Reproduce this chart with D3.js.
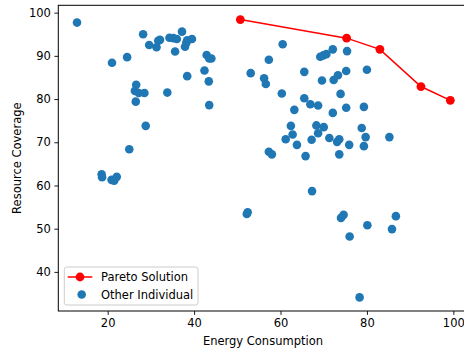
<!DOCTYPE html>
<html><head><meta charset="utf-8">
<script src="https://cdn.jsdelivr.net/npm/d3@7"></script>
<style>body{margin:0;background:#fff;overflow:hidden}svg{display:block;font-family:"DejaVu Sans",sans-serif}</style>
</head><body>
<script>
const paretoEnergy = [50.7, 75.3, 83.0, 92.5, 99.3];
const paretoCoverage = [98.4, 94.1, 91.5, 82.9, 79.7];
const otherEnergy = [12.9,21.0,24.5,28.2,29.6,31.3,31.7,32.1,34.3,35.2,36.0,37.2,35.6,37.9,38.4,39.5,38.2,38.4,33.8,26.6,26.3,27.2,28.5,26.5,28.8,25.0,42.9,43.5,44.0,42.4,43.4,43.5,18.6,18.7,20.9,21.5,22.1,
 60.5,57.3,53.1,56.2,56.6,60.3,65.5,69.2,69.9,70.6,72.1,75.4,75.2,80.0,69.6,72.3,73.3,73.9,65.5,66.9,68.7,63.2,72.1,75.2,79.3,62.4,68.3,70.0,68.7,62.8,61.2,63.8,67.2,71.3,73.1,73.6,75.9,78.8,79.7,79.3,85.2,57.3,58.0,65.8,73.6,67.3,52.2,52.4,74.0,74.6,76.0,80.1,85.8,86.7,78.3];
const otherCoverage = [97.7,88.4,89.7,95.0,92.5,92.0,93.5,93.7,94.2,94.1,93.9,95.6,91.0,92.1,93.6,93.9,93.0,85.3,81.5,83.3,81.9,81.4,81.4,79.4,73.8,68.4,90.2,89.4,89.4,86.6,84.1,78.6,62.6,61.9,61.3,61.1,62.0,
 92.7,89.1,86.0,84.8,83.5,81.3,86.3,89.8,90.1,90.4,91.5,91.1,86.5,86.8,84.3,84.4,85.5,81.2,80.2,78.8,78.5,77.5,76.8,78.0,78.2,73.8,73.9,73.5,72.1,71.8,70.7,69.4,70.6,71.0,70.1,70.7,69.4,73.3,71.2,69.1,71.2,67.8,67.2,66.8,67.2,58.7,53.4,53.8,52.5,53.2,48.2,50.8,49.9,52.9,34.1];
const xTicks = [20, 40, 60, 80, 100];
const yTicks = [40, 50, 60, 70, 80, 90, 100];
const legendLabels = ["Pareto Solution", "Other Individual"];

const W = 464, H = 354;
const L = 58.3, R = 467.6, T = 5.3, B = 311;
const svg = d3.select("body").append("svg").attr("width", W).attr("height", H);
const x = d3.scaleLinear().domain([8.57, 103.3]).range([L, R]);
const y = d3.scaleLinear().domain([30.95, 101.7]).range([B, T]);
const fs = 11.5;

// points
svg.append("g").selectAll("circle").data(otherEnergy.map((e,i)=>[e, otherCoverage[i]]))
  .join("circle").attr("cx", d=>x(d[0])).attr("cy", d=>y(d[1])).attr("r", 4.3).attr("fill", "#1f77b4");

const pareto = paretoEnergy.map((e,i)=>[e, paretoCoverage[i]]);
svg.append("path").datum(pareto).attr("d", d3.line().x(d=>x(d[0])).y(d=>y(d[1])))
  .attr("fill","none").attr("stroke","#ff0000").attr("stroke-width",1.5);
svg.append("g").selectAll("circle").data(pareto).join("circle")
  .attr("cx", d=>x(d[0])).attr("cy", d=>y(d[1])).attr("r", 4.4).attr("fill", "#ff0000");

// axes
const xa = svg.append("g").attr("transform", `translate(0,${B})`)
  .call(d3.axisBottom(x).tickValues(xTicks).tickSize(3.9).tickPadding(3.5).tickFormat(d3.format("d")));
const ya = svg.append("g").attr("transform", `translate(${L},0)`)
  .call(d3.axisLeft(y).tickValues(yTicks).tickSize(3.9).tickPadding(3.5).tickFormat(d3.format("d")));
[xa, ya].forEach(a => {
  a.select(".domain").remove();
  a.selectAll("line").attr("stroke", "#000").attr("stroke-width", 0.9);
  a.selectAll("text").attr("font-size", fs).attr("font-family", "DejaVu Sans").attr("fill", "#000");
});
// spines
svg.append("rect").attr("x", L).attr("y", T).attr("width", R-L).attr("height", B-T)
  .attr("fill","none").attr("stroke","#000").attr("stroke-width",1);

svg.append("text").attr("x", (L+R)/2).attr("y", 345).attr("text-anchor","middle")
  .attr("font-size", fs).text("Energy Consumption");
svg.append("text").attr("transform", `translate(21,${(T+B)/2}) rotate(-90)`).attr("text-anchor","middle")
  .attr("font-size", fs).text("Resource Coverage");

// legend
const lg = svg.append("g");
lg.append("rect").attr("x", 64.3).attr("y", 267).attr("width", 133.7).attr("height", 38).attr("rx", 2.5)
  .attr("fill","#fff").attr("fill-opacity",0.8).attr("stroke","#cccccc").attr("stroke-width",1);
lg.append("line").attr("x1",67.7).attr("x2",92.3).attr("y1",277).attr("y2",277).attr("stroke","#ff0000").attr("stroke-width",1.5);
lg.append("circle").attr("cx",80).attr("cy",277).attr("r",4.4).attr("fill","#ff0000");
lg.append("circle").attr("cx",81.7).attr("cy",294.5).attr("r",4.3).attr("fill","#1f77b4");
lg.selectAll("text.l").data(legendLabels).join("text").attr("class","l")
  .attr("x",101).attr("y",(d,i)=>281+i*17.5).attr("font-size",fs).text(d=>d);
</script>
</body></html>
